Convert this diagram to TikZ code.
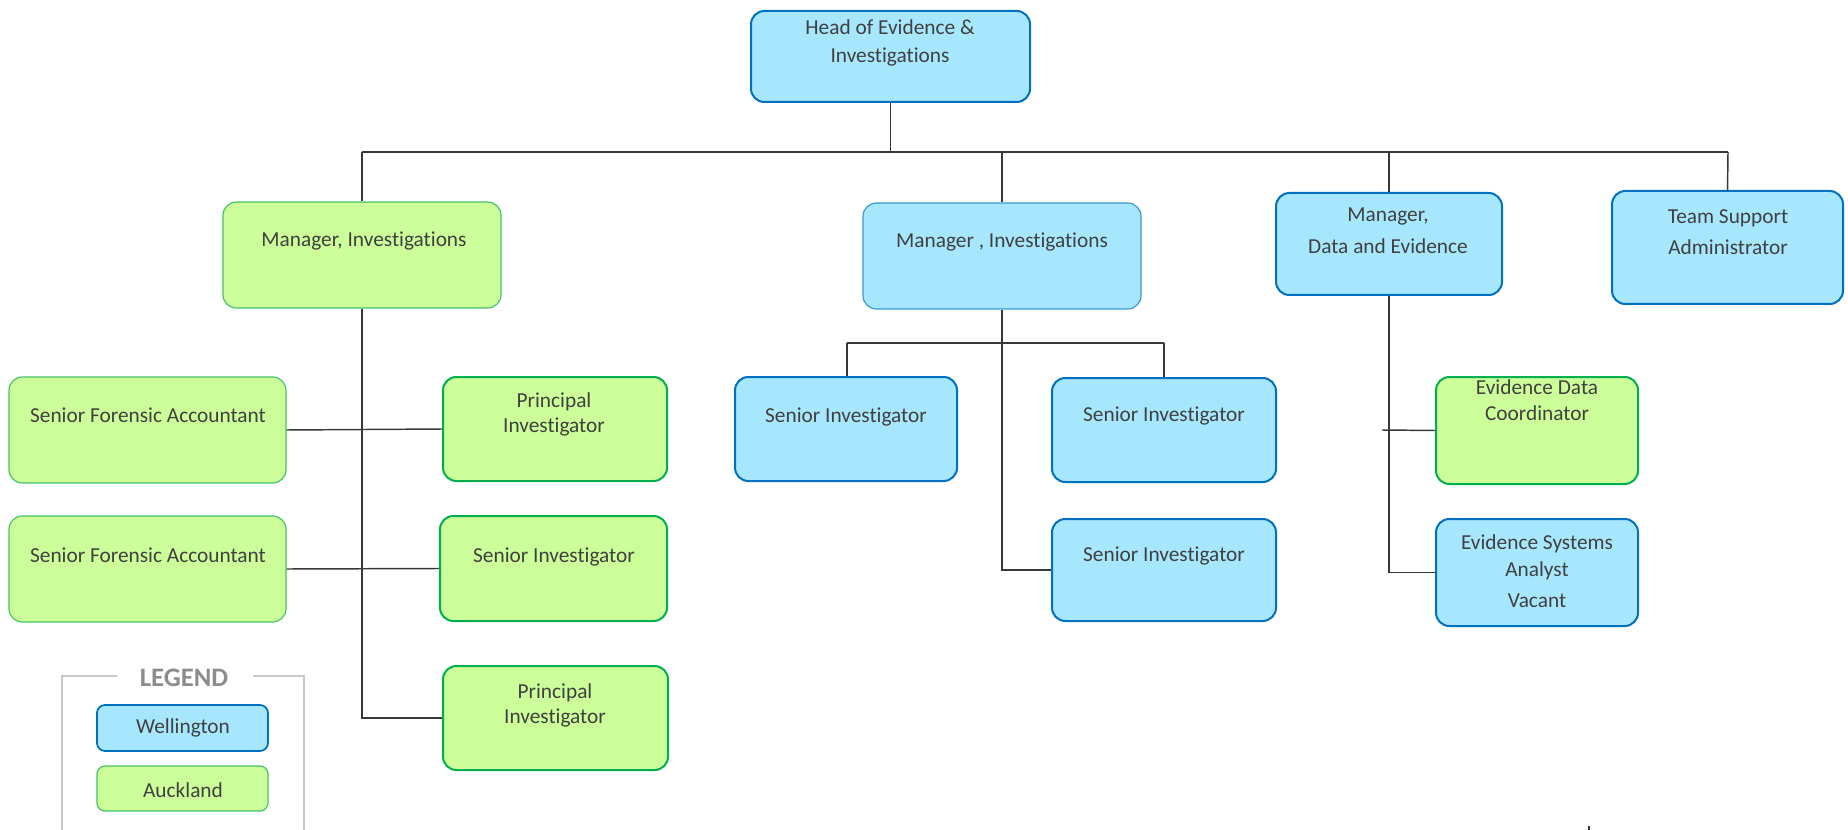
\documentclass[tikz,border=0pt]{standalone}
\usepackage{fontspec}
\setmainfont{Carlito}[Ligatures=NoCommon]
\usetikzlibrary{fit}
\definecolor{wfill}{HTML}{A6E7FE}
\definecolor{wline}{HTML}{0070C0}
\definecolor{wlinelt}{HTML}{3A98D8}
\definecolor{afill}{HTML}{CCFF99}
\definecolor{aline}{HTML}{00B050}
\definecolor{alinelt}{HTML}{44C266}
\definecolor{txt}{HTML}{404040}
\definecolor{conn}{HTML}{383838}
\definecolor{frame}{HTML}{C8C8C8}
\definecolor{leg}{HTML}{8C8C8C}
\tikzset{
  wbox/.style={draw=wline, fill=wfill, line width=1.5pt, rounded corners=10pt, inner sep=0pt},
  wboxlt/.style={draw=wlinelt, fill=wfill, line width=0.9pt, rounded corners=10pt, inner sep=0pt},
  abox/.style={draw=aline, fill=afill, line width=1.5pt, rounded corners=10pt, inner sep=0pt},
  aboxlt/.style={draw=alinelt, fill=afill, line width=0.9pt, rounded corners=10pt, inner sep=0pt},
  lbox/.style={rounded corners=6pt, inner sep=0pt},
  lbl/.style={text=txt, font=\fontsize{16}{19}\selectfont, inner sep=0pt, align=center},
  conn/.style={draw=conn, line width=1.1pt},
}
\begin{document}
\begin{tikzpicture}[x=0.75pt,y=-0.75pt]
\useasboundingbox (0,0) rectangle (1848,830);

% boxes
\node[wbox, fit={(751,11) (1030,102)}] (head) {};
\node[aboxlt, fit={(223,202) (501,308)}] (mgrA) {};
\node[wboxlt, fit={(863,203) (1141,309)}] (mgrB) {};
\node[wbox, fit={(1276,193) (1502,295)}] (mgrC) {};
\node[wbox, fit={(1612,191) (1843,304)}] (team) {};

\node[aboxlt, fit={(9,377) (286,483)}] (sfa1) {};
\node[abox, fit={(443,377) (667,481)}] (pi1) {};
\node[aboxlt, fit={(9,516) (286,622)}] (sfa2) {};
\node[abox, fit={(440,516) (667,621)}] (sia) {};
\node[abox, fit={(443,666) (668,770)}] (pi2) {};

\node[wbox, fit={(735,377) (957,481)}] (si1) {};
\node[wbox, fit={(1052,378) (1276,482)}] (si2) {};
\node[wbox, fit={(1052,519) (1276,621)}] (si3) {};

\node[abox, fit={(1436,377) (1638,484)}] (edc) {};
\node[wbox, fit={(1436,519) (1638,626)}] (esa) {};

% labels
\node[lbl] (tHead1) at (890,27) {Head of Evidence \&};
\node[lbl] (tHead2) at (890,57) {Investigations};
\node[lbl] (tMgrA) at (364,241) {Manager, Investigations};
\node[lbl] (tMgrB) at (1002,242) {Manager , Investigations};
\node[lbl] (tMgrC1) at (1388,216) {Manager,};
\node[lbl] (tMgrC2) at (1388,246) {Data and Evidence};
\node[lbl] (tTeam1) at (1728,218) {Team Support};
\node[lbl] (tTeam2) at (1728,247) {Administrator};
\node[lbl] (tSfa1) at (148,415) {Senior Forensic Accountant};
\node[lbl] (tPi1a) at (554,402) {Principal};
\node[lbl] (tPi1b) at (554,427) {Investigator};
\node[lbl] (tSfa2) at (148,555) {Senior Forensic Accountant};
\node[lbl] (tSia) at (554,557) {Senior Investigator};
\node[lbl] (tPi2a) at (555,693) {Principal};
\node[lbl] (tPi2b) at (555,718) {Investigator};
\node[lbl] (tSi1) at (846,417) {Senior Investigator};
\node[lbl] (tSi2) at (1164,416) {Senior Investigator};
\node[lbl] (tSi3) at (1164,556) {Senior Investigator};
\node[lbl] (tEdc1) at (1537,387) {Evidence Data};
\node[lbl] (tEdc2) at (1537,413) {Coordinator};
\node[lbl] (tEsa1) at (1537,544) {Evidence Systems};
\node[lbl] (tEsa2) at (1537,571) {Analyst};
\node[lbl] (tEsa3) at (1537,601) {Vacant};

% connectors
\coordinate (busL) at (362,152);
\coordinate (busR) at (1728,152);
\draw[conn] (busL) -- (busR);
\draw[conn] (head.south) -- (head.south |- busL);
\draw[conn] (busL) -- (mgrA.north);
\draw[conn] (mgrB.north) -- (mgrB.north |- busL);
\draw[conn] (mgrC.north) -- (mgrC.north |- busL);
\draw[conn] (busR) -- (team.north);

\draw[conn] (mgrA.south) |- (pi2.west);
\draw[conn] (sfa1.east) -- (pi1.west);
\draw[conn] (sfa2.east) -- (sia.west);

\coordinate (mbL) at (847,343);
\coordinate (mbR) at (1164,343);
\draw[conn] (mgrB.south) |- (si3.west);
\draw[conn] (mbL) -- (mbR);
\draw[conn] (mbL) -- (mbL |- si1.north);
\draw[conn] (mbR) -- (mbR |- si2.north);

\coordinate (edcStub) at (1382,430);
\draw[conn] (mgrC.south) |- (esa.west);
\draw[conn] (edcStub) -- (edc.west);

% legend
\draw[draw=frame, line width=1.3pt] (117,676) -- (62,676) -- (62,832);
\draw[draw=frame, line width=1.3pt] (253,676) -- (304,676) -- (304,832);
\node[text=leg, font=\fontsize{20}{24}\selectfont\bfseries, inner sep=0pt] (legT) at (184,678) {LEGEND};
\node[wbox, lbox, line width=1.3pt, fit={(97,705) (268,751)}] (legW) {};
\node[aboxlt, lbox, fit={(97,766) (268,811)}] (legA) {};
\node[lbl] (tLegW) at (183,728) {Wellington};
\node[lbl] (tLegA) at (183,790) {Auckland};

\coordinate (tickA) at (1589,826);
\coordinate (tickB) at (1589,830);
\draw[conn, line width=0.8pt] (tickA) -- (tickB);
\end{tikzpicture}
\end{document}
